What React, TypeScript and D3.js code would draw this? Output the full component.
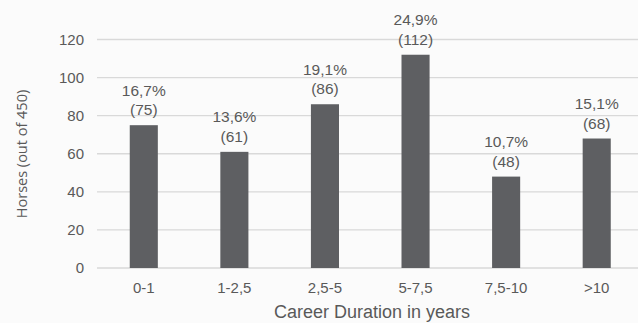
import React from "react";
import * as d3 from "d3";

const categories = ["0-1", "1-2,5", "2,5-5", "5-7,5", "7,5-10", ">10"];
const counts = [75, 61, 86, 112, 48, 68];
const percents = ["16,7%", "13,6%", "19,1%", "24,9%", "10,7%", "15,1%"];
const yTicks = [0, 20, 40, 60, 80, 100, 120];

const W = 638;
const H = 323;
const FONT = "'Liberation Sans', Arial, sans-serif";
const TEXT = "#595959";

export default function App() {
  const x = d3.scaleBand<string>().domain(categories).range([98.5, 642]).paddingInner(0.69).paddingOuter(0.345);
  const y = d3.scaleLinear().domain([0, 120]).range([268, 39.5]);
  return (
    <svg width={W} height={H} style={{ position: "absolute", left: 0, top: 0, background: "#fbfbfb" }}>
      <rect x={0} y={0} width={W} height={H} fill="#fbfbfb" />
      {yTicks.map((t) => (
        <g key={t}>
          <line x1={97} x2={W} y1={y(t)} y2={y(t)} stroke="#d9d9d9" strokeWidth={1.3} />
          <text x={84} y={y(t)} dy="0.35em" textAnchor="end" fontFamily={FONT} fontSize={15} fill={TEXT}>
            {t}
          </text>
        </g>
      ))}
      {categories.map((c, i) => {
        const bx = x(c)!;
        const cx = bx + x.bandwidth() / 2;
        return (
          <g key={c}>
            <rect x={bx} y={y(counts[i])} width={x.bandwidth()} height={y(0) - y(counts[i])} fill="#5e5f62" />
            <text x={cx} y={y(counts[i]) - 10} textAnchor="middle" fontFamily={FONT} fontSize={15.5} fill={TEXT}>
              ({counts[i]})
            </text>
            <text x={cx} y={y(counts[i]) - 29.5} textAnchor="middle" fontFamily={FONT} fontSize={15.5} fill={TEXT}>
              {percents[i]}
            </text>
            <text x={cx} y={293} textAnchor="middle" fontFamily={FONT} fontSize={15} fill={TEXT}>
              {c}
            </text>
          </g>
        );
      })}
      <text x={372} y={318} textAnchor="middle" fontFamily={FONT} fontSize={18} fill={TEXT}>
        Career Duration in years
      </text>
      <text
        transform={`translate(27,154) rotate(-90)`}
        textAnchor="middle"
        fontFamily="'Open Sans', 'Noto Sans', sans-serif"
        fontSize={14.5}
        fill={TEXT}
      >
        Horses (out of 450)
      </text>
    </svg>
  );
}
